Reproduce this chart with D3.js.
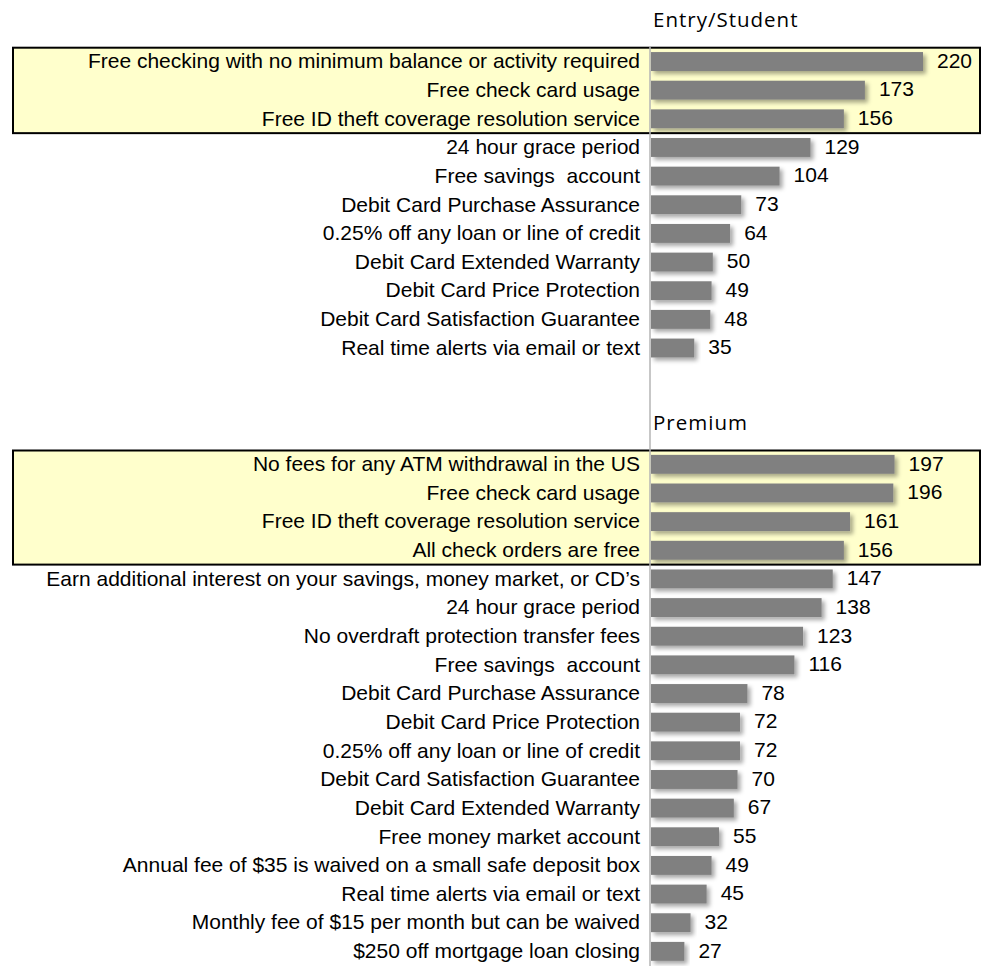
<!DOCTYPE html>
<html>
<head>
<meta charset="utf-8">
<script src="https://cdnjs.cloudflare.com/ajax/libs/d3/7.8.5/d3.min.js"></script>
<style>
  html, body { margin: 0; padding: 0; background: #fff; }
  svg text { fill: #000; white-space: pre; }
</style>
</head>
<body>
<svg width="984" height="966"></svg>
<script>
// data
var entryLabels = [
  "Free checking with no minimum balance or activity required",
  "Free check card usage",
  "Free ID theft coverage resolution service",
  "24 hour grace period",
  "Free savings  account",
  "Debit Card Purchase Assurance",
  "0.25% off any loan or line of credit",
  "Debit Card Extended Warranty",
  "Debit Card Price Protection",
  "Debit Card Satisfaction Guarantee",
  "Real time alerts via email or text"
];
var entryValues = [220, 173, 156, 129, 104, 73, 64, 50, 49, 48, 35];

var premiumLabels = [
  "No fees for any ATM withdrawal in the US",
  "Free check card usage",
  "Free ID theft coverage resolution service",
  "All check orders are free",
  "Earn additional interest on your savings, money market, or CD\u2019s",
  "24 hour grace period",
  "No overdraft protection transfer fees",
  "Free savings  account",
  "Debit Card Purchase Assurance",
  "Debit Card Price Protection",
  "0.25% off any loan or line of credit",
  "Debit Card Satisfaction Guarantee",
  "Debit Card Extended Warranty",
  "Free money market account",
  "Annual fee of $35 is waived on a small safe deposit box",
  "Real time alerts via email or text",
  "Monthly fee of $15 per month but can be waived",
  "$250 off mortgage loan closing"
];
var premiumValues = [197, 196, 161, 156, 147, 138, 123, 116, 78, 72, 72, 70, 67, 55, 49, 45, 32, 27];

var sections = [
  {title: "Entry/Student", labels: entryLabels, values: entryValues, top: 47.2, highlight: 3},
  {title: "Premium", labels: premiumLabels, values: premiumValues, top: 450, highlight: 4}
];

var svg = d3.select("svg"),
    step = 28.65,
    axisX = 650;

var x = d3.scaleLinear().domain([0, 220]).range([axisX + 1, 923]);

var defs = svg.append("defs");
defs.append("filter")
    .attr("id", "shadow")
    .attr("x", "-5%").attr("y", "-30%")
    .attr("width", "120%").attr("height", "180%")
  .append("feDropShadow")
    .attr("dx", 3).attr("dy", 3)
    .attr("stdDeviation", 2)
    .attr("flood-color", "#000")
    .attr("flood-opacity", 0.35);

sections.forEach(function(s) {
  // each row gets its own key so repeated labels stay distinct
  var keys = s.labels.map(function(d, i) { return i; });
  var y = d3.scaleBand()
      .domain(keys)
      .range([s.top, s.top + keys.length * step])
      .paddingInner(0.34)
      .paddingOuter(0.17);

  var g = svg.append("g");

  // yellow box round the top rows
  g.append("rect")
      .attr("x", 13)
      .attr("y", s.top + 0.5)
      .attr("width", 967)
      .attr("height", s.highlight * step - 0.5)
      .attr("fill", "#ffffcc")
      .attr("stroke", "#000")
      .attr("stroke-width", 2);

  g.append("text")
      .attr("x", axisX + 3)
      .attr("y", s.top - 20)
      .attr("font-family", "'Open Sans', sans-serif")
      .attr("font-size", 20.5)
      .attr("letter-spacing", 1)
      .text(s.title);

  g.selectAll(".bar")
    .data(s.values)
    .enter().append("rect")
      .attr("class", "bar")
      .attr("x", x(0))
      .attr("y", function(d, i) { return y(i); })
      .attr("width", function(d) { return x(d) - x(0); })
      .attr("height", y.bandwidth())
      .attr("fill", "#808080")
      .attr("filter", "url(#shadow)");

  g.selectAll(".val")
    .data(s.values)
    .enter().append("text")
      .attr("class", "val")
      .attr("x", function(d) { return x(d) + 14; })
      .attr("y", function(d, i) { return y(i) + y.bandwidth() / 2; })
      .attr("dy", "0.3em")
      .attr("font-family", "'Liberation Sans', Arial, sans-serif")
      .attr("font-size", 21)
      .text(function(d) { return d; });

  var ax = g.append("g")
      .attr("transform", "translate(" + axisX + ",0)")
      .call(d3.axisLeft(y).tickSize(0).tickPadding(10)
        .tickFormat(function(i) { return s.labels[i]; }));
  ax.select(".domain").remove();
  ax.selectAll("text")
      .attr("font-family", "'Liberation Sans', Arial, sans-serif")
      .attr("font-size", 21)
      .attr("fill", "#000");
});

// one axis line through both panels
svg.append("line")
    .attr("x1", axisX).attr("x2", axisX)
    .attr("y1", 47).attr("y2", 966)
    .attr("stroke", "#b4b4b4")
    .attr("stroke-width", 1.5);
</script>
</body>
</html>
